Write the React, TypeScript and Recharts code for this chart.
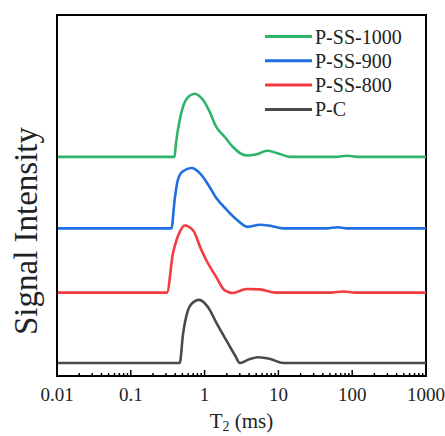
import React from 'react';
import { LineChart, Line, XAxis, YAxis, Legend, ReferenceArea } from 'recharts';

// series names / colours / vertical offsets of each stacked curve
const seriesNames = ['P-SS-1000', 'P-SS-900', 'P-SS-800', 'P-C'];
const seriesColors = ['#2db36a', '#1f6fe3', '#f33b40', '#4a4a4a'];
const baselines = [60.7, 40.9, 23.1, 3.6];

// T2 (ms) and signal
const t2Green = [0.01, 0.39, 0.41, 0.46, 0.51, 0.6, 0.73, 0.95, 1.17, 1.44, 1.88, 2.41, 3.17, 3.87, 5.1, 7.0, 9.5, 14.5, 60, 85, 120, 1000];
const sigGreen = [0, 0, 3.9, 10.2, 13.9, 16.6, 17.5, 15.8, 12.5, 8.3, 5.5, 2.8, 0.8, 0.4, 0.7, 1.7, 1.1, 0, 0, 0.3, 0, 0];

const t2Blue = [0.01, 0.355, 0.393, 0.435, 0.508, 0.662, 0.86, 1.12, 1.44, 1.98, 2.73, 3.87, 5.6, 7.8, 11.6, 45, 63, 85, 1000];
const sigBlue = [0, 0, 8.0, 13.5, 15.8, 16.7, 15.3, 12.1, 8.4, 5.2, 2.4, 0.4, 1.0, 0.7, 0, 0, 0.3, 0, 0];

const t2Red = [0.01, 0.309, 0.372, 0.414, 0.47, 0.537, 0.7, 0.9, 1.06, 1.44, 1.88, 2.4, 3.7, 5.6, 9.1, 50, 77, 110, 1000];
const sigRed = [0, 0, 10.8, 14.4, 17.2, 18.6, 17.2, 11.9, 8.9, 4.3, 0.6, -0.1, 1.0, 0.9, 0, 0, 0.3, 0, 0];

const t2Black = [0.01, 0.46, 0.51, 0.59, 0.66, 0.84, 1.12, 1.44, 1.98, 2.6, 3.0, 4.1, 5.3, 7.8, 11.6, 1000];
const sigBlack = [0, 0, 8.0, 14.4, 16.3, 17.5, 15.4, 11.2, 6.2, 2.0, 0, 1.1, 1.6, 1.1, 0, 0];

const majorTicks = [0.01, 0.1, 1, 10, 100, 1000];
const minorSteps = [2, 3, 4, 5, 6, 7, 8, 9];

const allT2 = [t2Green, t2Blue, t2Red, t2Black];
const allSig = [sigGreen, sigBlue, sigRed, sigBlack];

const seriesData = allT2.map((ts, i) =>
  ts.map((t, j) => ({ t, v: allSig[i][j] + baselines[i] }))
);

const xTicks: number[] = [];
majorTicks.forEach((m, i) => {
  xTicks.push(m);
  if (i < majorTicks.length - 1) minorSteps.forEach((s) => xTicks.push(+(m * s).toPrecision(3)));
});

const FONT = '"Liberation Serif", "Times New Roman", serif';

const XTick = (props: any) => {
  const { x, y, payload } = props;
  const isMajor = majorTicks.includes(payload.value);
  return (
    <g>
      <line x1={x} x2={x} y1={y} y2={y - (isMajor ? 6 : 3)} stroke="#000" strokeWidth={1.5} />
      {isMajor && (
        <text x={x} y={y + 25} textAnchor="middle" fontSize={19} fontFamily={FONT} fill="#222">
          {payload.value}
        </text>
      )}
    </g>
  );
};

const XTitle = (props: any) => {
  const { viewBox } = props;
  const cx = viewBox.x + viewBox.width / 2;
  return (
    <text x={cx} y={viewBox.y + 52} textAnchor="middle" fontSize={21} fontFamily={FONT} fill="#222">
      T<tspan dy={3} fontSize={14}>2</tspan>
      <tspan dy={-3}> (ms)</tspan>
    </text>
  );
};

const YTitle = () => {
  const cx = 37;
  const cy = 231;
  return (
    <text x={cx} y={cy} transform={`rotate(-90, ${cx}, ${cy})`} textAnchor="middle" fontSize={33} fontFamily={FONT} fill="#222">
      Signal Intensity
    </text>
  );
};

const renderLegend = () => (
  <svg width={180} height={100}>
    {seriesNames.map((name, i) => (
      <g key={name}>
        <line x1={3} x2={50} y1={12.5 + i * 24.3} y2={12.5 + i * 24.3} stroke={seriesColors[i]} strokeWidth={3} />
        <text x={53} y={12.5 + i * 24.3 + 7} fontSize={20} fontFamily={FONT} fill="#222">{name}</text>
      </g>
    ))}
  </svg>
);

export default function App() {
  return (
    <div style={{ position: 'absolute', left: 0, top: 0, background: '#fff' }}>
      <LineChart width={445} height={436} margin={{ top: 15, right: 19, left: 0, bottom: 0 }}>
        <XAxis
          dataKey="t"
          type="number"
          scale="log"
          domain={[0.01, 1000]}
          ticks={xTicks}
          interval={0}
          allowDataOverflow
          tick={<XTick />}
          tickSize={0}
          tickMargin={0}
          tickLine={false}
          axisLine={{ stroke: '#000', strokeWidth: 2 }}
          height={60}
          label={<XTitle />}
        />
        <YAxis
          type="number"
          domain={[0, 100]}
          width={57}
          tick={false}
          tickLine={false}
          axisLine={{ stroke: '#000', strokeWidth: 2 }}
          label={<YTitle />}
        />
        <ReferenceArea x1={0.01} x2={1000} y1={0} y2={100} fill="none" stroke="#000" strokeWidth={2} />
        {seriesData.map((d, i) => (
          <Line
            key={seriesNames[i]}
            data={d}
            dataKey="v"
            name={seriesNames[i]}
            type="monotone"
            stroke={seriesColors[i]}
            strokeWidth={2.6}
            dot={false}
            isAnimationActive={false}
          />
        ))}
        <Legend
          layout="horizontal"
          verticalAlign="middle"
          align="center"
          content={renderLegend}
          wrapperStyle={{ left: 262, top: 24, width: 180 }}
        />
      </LineChart>
    </div>
  );
}
